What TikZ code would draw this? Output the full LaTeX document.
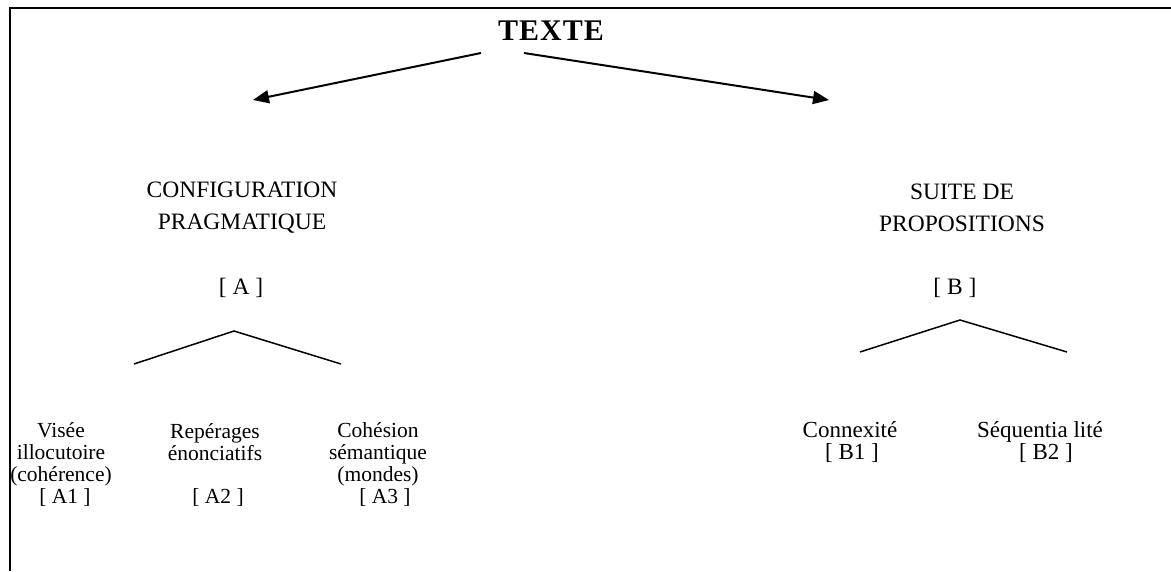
\documentclass[tikz,border=0pt]{standalone}
\usepackage{fontspec}
\setmainfont{Liberation Serif}
\usetikzlibrary{arrows.meta}
\begin{document}
\begin{tikzpicture}[x=1pt,y=-1pt,
  lbl/.style={font=\fontsize{21.5}{22}\selectfont, align=center, inner sep=0pt},
  lblb/.style={font=\fontsize{23}{22}\selectfont, align=center, inner sep=0pt},
  head/.style={font=\fontsize{23.5}{32}\selectfont, align=center, inner sep=0pt},
  title/.style={font=\fontsize{30}{30}\selectfont\bfseries, inner sep=0pt},
  arr/.style={line width=2pt, -{Triangle[length=16pt,width=13pt]}},
  branch/.style={line width=1.5pt},
  frame/.style={line width=2.5pt}]
\useasboundingbox (0,0) rectangle (1171,571);
\fill[white] (0,0) rectangle (1171,571);
\draw[frame] (10,571) -- (10,8) -- (1171,8);

% title
\node[title] (texte) at (551,31) {T\kern1ptE\kern1ptX\kern1ptT\kern1ptE};

% arrows
\coordinate (tl) at (481,53);
\coordinate (tr) at (524,53);
\coordinate (al) at (253,100);
\coordinate (ar) at (829,100);
\draw[arr] (tl) -- (al);
\draw[arr] (tr) -- (ar);

% headings
\node[head] (confA) at (242,208) {CONFIGURATION\\PRAGMATIQUE};
\node[head] (bA) at (241,288) {[ A ]};
\node[head] (suiteB) at (962,208) {SUITE DE\\PROPOSITIONS};
\node[head] (bB) at (955,288) {[ B ]};

% tree A
\coordinate (apA) at (234,331);
\coordinate (lA) at (134,364);
\coordinate (rA) at (341,364);
\draw[branch] (lA) -- (apA) -- (rA);

% tree B
\coordinate (apB) at (960,320);
\coordinate (lB) at (860,352);
\coordinate (rB) at (1067,352);
\draw[branch] (lB) -- (apB) -- (rB);

% leaves A
\node[lbl] (a1) at (61,464) {Vis\'ee\hspace{16pt}\\illocutoire\\(coh\'erence)\\{\hspace{8pt}[ A1 ]}};
\node[lbl] (a2) at (215,442) {Rep\'erages\\\'enonciatifs};
\node[lbl] (a2b) at (218,497) {[ A2 ]};
\node[lbl] (a3) at (378,464) {Coh\'esion\hspace{10pt}\\s\'emantique\\(mondes)\\{\hspace{14pt}[ A3 ]}};

% leaves B
\node[lblb] (b1) at (850,442) {Connexit\'e\\{\hspace{4pt}[ B1 ]}};
\node[lblb] (b2) at (1040,442) {S\'equentia lit\'e\\{\hspace{12pt}[ B2 ]}};
\end{tikzpicture}
\end{document}
